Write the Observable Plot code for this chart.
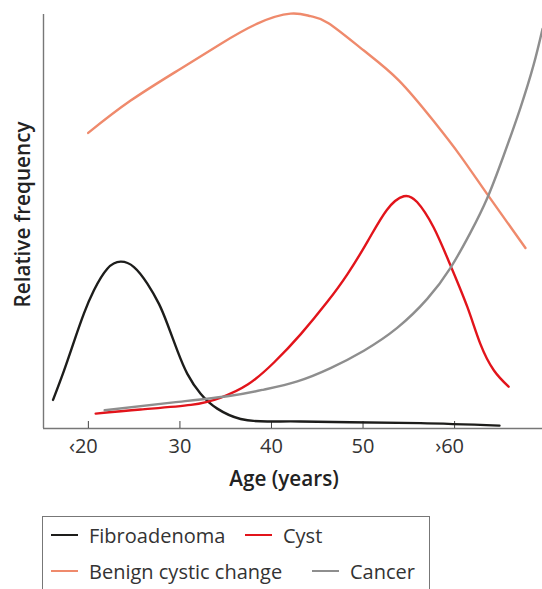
<!DOCTYPE html>
<html><head><meta charset="utf-8">
<script src="https://cdn.jsdelivr.net/npm/d3@7"></script>
<script src="https://cdn.jsdelivr.net/npm/@observablehq/plot@0.6"></script>
<style>
body{margin:0;background:#fff;width:542px;height:589px;overflow:hidden;position:relative;font-family:"Open Sans","Noto Sans",sans-serif;color:#333;}
#chart{position:absolute;left:0;top:0;}
#legend{position:absolute;left:42px;top:516px;width:388px;height:100px;border:1px solid #777;border-bottom:none;box-sizing:border-box;}
.item{position:absolute;display:flex;align-items:center;gap:11px;font-size:20px;color:#333;white-space:nowrap;height:36px;}
.sw{width:27px;height:0;border-top:2.6px solid;}
</style></head><body>
<div id="chart"></div>
<div id="legend"></div>
<script>
const seriesNames = ["Fibroadenoma","Cyst","Benign cystic change","Cancer"];
const seriesColors = ["#1d1d1b","#e2141b","#ef8a6c","#8e8e8e"];
const tickValues = [20,30,40,50,60];
const tickLabels = ["‹20","30","40","50","›60"];
const xDomain = [15.1, 69.6];

const fibroAge  = [16.14,17.34,18.43,19.52,20.61,22.07,23.53,24.98,26.44,27.71,28.62,29.72,30.81,32.26,34.08,36.63,39.54,43.18,48.64,56.28,64.9];
const fibroFreq = [6.9,14.0,21.0,27.8,33.4,38.6,40.3,39.0,35.0,30.1,25.3,18.8,13.2,8.4,4.8,2.3,1.7,1.7,1.5,1.3,0.7];

const cystAge  = [20.8,25.7,31.2,34.4,37.4,40.3,43.2,46.1,48.3,50.5,52.6,54.45,55.9,57.7,59.55,61.4,62.8,64.3,65.9];
const cystFreq = [3.6,4.6,5.7,7.4,10.6,16.0,22.8,30.6,37.3,45.2,52.8,56.1,54.7,48.6,39.4,29.3,20.5,14.0,10.1];

const benignAge  = [19.98,24.62,30.08,34.44,38.45,42.09,44.27,46.23,50.09,53.9,57.73,60.65,63.56,67.74];
const benignFreq = [71.4,79.2,86.9,92.9,97.8,100.2,99.6,97.9,91.3,84.1,74.2,65.8,56.6,43.6];

const cancerAge  = [21.78,29.31,35.53,39.17,42.82,46.45,50.09,53.73,57.01,59.55,61.73,63.56,65.37,67.18,68.65,69.6];
const cancerFreq = [4.4,6.3,7.9,9.4,11.4,14.6,18.8,24.3,31.3,38.8,47.3,55.6,66.0,77.4,88.0,96.5];

const seriesData = [[fibroAge,fibroFreq],[cystAge,cystFreq],[benignAge,benignFreq],[cancerAge,cancerFreq]];
const rows = seriesData.flatMap(([a,f],k)=>a.map((age,i)=>({series:seriesNames[k], age, freq:f[i]})));

const font = '"Open Sans","Noto Sans",sans-serif';
const plainTicks = tickValues.filter((d,i)=>!/[‹›]/.test(tickLabels[i]));
const markedTicks = tickValues.filter((d,i)=>/[‹›]/.test(tickLabels[i]));
const fmt = d=>tickLabels[tickValues.indexOf(d)];

const chart = Plot.plot({
  width:542, height:500,
  marginLeft:43, marginRight:0, marginTop:14, marginBottom:72,
  x:{domain:xDomain},
  y:{domain:[0,100], axis:null},
  color:{domain:seriesNames, range:seriesColors},
  style:{fontFamily:font, fontSize:"20px", color:"#333", background:"transparent", overflow:"visible"},
  marks:[
    Plot.ruleY([0],{stroke:"#777",strokeWidth:1.4}),
    Plot.ruleX([xDomain[0]],{stroke:"#777",strokeWidth:1.4}),
    Plot.axisX({ticks:tickValues, tickSize:-7, tickFormat:()=>"", stroke:"#444", label:null}),
    Plot.axisX({ticks:plainTicks, tickSize:0, tickPadding:10, fontSize:20, fill:"#333", tickFormat:fmt, label:null}),
    Plot.axisX({ticks:markedTicks, tickSize:0, tickPadding:10, fontSize:20, fill:"#333", tickFormat:fmt, label:null, dx:-5}),
    Plot.line(rows,{x:"age", y:"freq", z:"series", stroke:"series", curve:"natural", strokeWidth:2.4}),
    Plot.text(["Age (years)"],{text:d=>d, frameAnchor:"bottom", dy:57, dx:-9, fontWeight:600, fontSize:20.7, fill:"#222"}),
    Plot.text(["Relative frequency"],{text:d=>d, frameAnchor:"left", textAnchor:"middle", rotate:-90, dx:-20, dy:-7, fontWeight:600, fontSize:20.7, fill:"#222"})
  ]
});
document.getElementById("chart").appendChild(chart);

const legend = document.getElementById("legend");
const legendPos = [[8,0],[202,0],[8,36],[269,36]];
seriesNames.forEach((name,k)=>{
  const it=document.createElement("div"); it.className="item";
  it.style.left=legendPos[k][0]+"px"; it.style.top=legendPos[k][1]+"px";
  const sw=document.createElement("span"); sw.className="sw"; sw.style.borderTopColor=seriesColors[k];
  const tx=document.createElement("span"); tx.textContent=name;
  it.appendChild(sw); it.appendChild(tx); legend.appendChild(it);
});
</script>
</body></html>
